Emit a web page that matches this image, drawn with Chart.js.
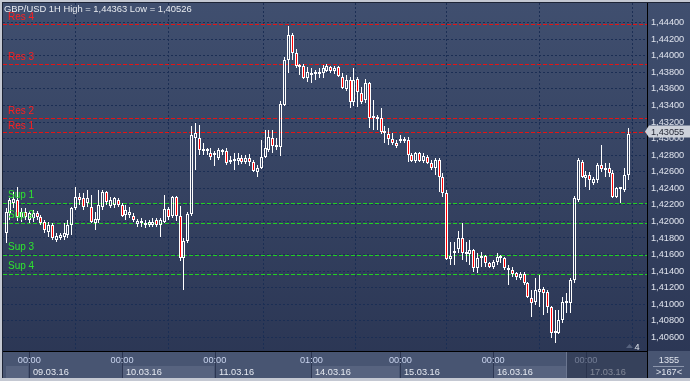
<!DOCTYPE html>
<html><head><meta charset="utf-8">
<script src="https://cdn.jsdelivr.net/npm/chart.js@4.4.1/dist/chart.umd.min.js"></script>
<style>html,body{margin:0;padding:0;background:#2e3a57;}#wrap{width:690px;height:381px;position:relative}canvas{display:block}</style>
</head><body><div id="wrap"><canvas id="c" width="690" height="381"></canvas></div>
<script>
// ---------- DATA (GBP/USD 1H, one value per hourly candle) ----------
const openP = [
1.41860,1.42102,1.42223,1.42259,1.42053,1.42114,1.42017,1.42041,1.42102,1.42053,
1.41993,1.41872,1.41957,1.41776,1.41800,1.41812,1.41836,1.41957,1.42162,1.42295,
1.42283,1.42223,1.42174,1.41981,1.42017,1.42174,1.42355,1.42186,1.42198,1.42259,
1.42198,1.42078,1.42078,1.42066,1.41969,1.41981,1.41957,1.41957,1.41957,1.42017,
1.41957,1.41993,1.42150,1.42066,1.42295,1.42066,1.41558,1.41764,1.42090,1.43008,
1.43008,1.42851,1.42851,1.42826,1.42802,1.42766,1.42863,1.42851,1.42718,1.42730,
1.42730,1.42766,1.42718,1.42766,1.42718,1.42597,1.42645,1.42778,1.42863,1.43008,
1.42899,1.42899,1.43406,1.43950,1.44252,1.44034,1.43865,1.43877,1.43732,1.43774,
1.43776,1.43786,1.43793,1.43817,1.43865,1.43817,1.43865,1.43744,1.43599,1.43708,
1.43442,1.43720,1.43551,1.43467,1.43672,1.43255,1.43261,1.43249,1.43068,1.43056,
1.42996,1.42947,1.42971,1.42971,1.42983,1.42802,1.42730,1.42826,1.42730,1.42778,
1.42706,1.42645,1.42742,1.42537,1.42343,1.41546,1.41613,1.41667,1.41800,1.41607,
1.41607,1.41655,1.41438,1.41558,1.41582,1.41498,1.41450,1.41510,1.41582,1.41558,
1.41438,1.41413,1.41377,1.41317,1.41365,1.41256,1.41075,1.41027,1.41148,1.41184,
1.41148,1.40967,1.40653,1.40653,1.40810,1.41015,1.41015,1.41293,1.42259,1.42718,
1.42524,1.42561,1.42464,1.42500,1.42681,1.42621,1.42645,1.42585,1.42295,1.42386,
1.42380,1.42561];
const highP = [
1.42162,1.42283,1.42355,1.42416,1.42162,1.42162,1.42126,1.42138,1.42126,1.42078,
1.42017,1.41993,1.41981,1.41860,1.41860,1.41981,1.42017,1.42174,1.42416,1.42343,
1.42343,1.42380,1.42319,1.42114,1.42380,1.42380,1.42367,1.42295,1.42295,1.42283,
1.42223,1.42198,1.42174,1.42102,1.42029,1.42041,1.42017,1.42017,1.42041,1.42041,
1.42041,1.42319,1.42174,1.42307,1.42307,1.42186,1.41800,1.42114,1.43153,1.43189,
1.43165,1.42947,1.42887,1.42887,1.42851,1.42887,1.42875,1.42887,1.42790,1.42826,
1.42826,1.42802,1.42802,1.42814,1.42742,1.42681,1.42983,1.43104,1.43104,1.43104,
1.43008,1.43454,1.43986,1.44363,1.44276,1.44082,1.43901,1.43901,1.43865,1.43853,
1.43829,1.43853,1.43889,1.43901,1.43877,1.43877,1.43877,1.43793,1.43768,1.43744,
1.43853,1.43744,1.43624,1.43720,1.43684,1.43467,1.43285,1.43370,1.43153,1.43128,
1.43068,1.42983,1.43044,1.43020,1.43020,1.42826,1.42838,1.42838,1.42826,1.42802,
1.42742,1.42766,1.42766,1.42585,1.42380,1.41752,1.41752,1.41884,1.41981,1.41752,
1.41776,1.41667,1.41619,1.41631,1.41595,1.41510,1.41534,1.41619,1.41595,1.41570,
1.41474,1.41450,1.41389,1.41389,1.41389,1.41268,1.41172,1.41317,1.41353,1.41208,
1.41172,1.40979,1.40930,1.40930,1.41087,1.41136,1.41317,1.42307,1.42766,1.42742,
1.42609,1.42597,1.42537,1.42706,1.42923,1.42706,1.42706,1.42621,1.42416,1.42416,
1.42645,1.43128];
const lowP = [
1.41739,1.42017,1.42162,1.42005,1.41993,1.42017,1.41981,1.41993,1.42017,1.41957,
1.41860,1.41812,1.41776,1.41752,1.41776,1.41776,1.41800,1.41836,1.42138,1.42198,
1.42138,1.42174,1.41981,1.41896,1.41981,1.42138,1.42198,1.42162,1.42162,1.42174,
1.42053,1.42017,1.42041,1.41993,1.41933,1.41933,1.41921,1.41933,1.41933,1.41933,
1.41812,1.41981,1.42017,1.42041,1.42005,1.41522,1.41172,1.41739,1.42066,1.42621,
1.42802,1.42802,1.42802,1.42742,1.42669,1.42742,1.42802,1.42681,1.42694,1.42621,
1.42681,1.42694,1.42694,1.42669,1.42597,1.42537,1.42633,1.42766,1.42838,1.42826,
1.42863,1.42790,1.43394,1.43793,1.43950,1.43853,1.43768,1.43720,1.43684,1.43672,
1.43708,1.43732,1.43732,1.43805,1.43793,1.43780,1.43744,1.43599,1.43575,1.43370,
1.43394,1.43382,1.43418,1.43430,1.43128,1.43104,1.43104,1.43056,1.42947,1.42923,
1.42923,1.42887,1.42947,1.42947,1.42718,1.42718,1.42706,1.42718,1.42706,1.42694,
1.42621,1.42561,1.42355,1.42295,1.41534,1.41474,1.41474,1.41619,1.41534,1.41510,
1.41474,1.41389,1.41377,1.41450,1.41450,1.41438,1.41425,1.41474,1.41498,1.41413,
1.41232,1.41329,1.41293,1.41293,1.41232,1.41075,1.40846,1.40991,1.40967,1.40870,
1.40894,1.40592,1.40526,1.40640,1.40773,1.40894,1.40894,1.41256,1.42235,1.42524,
1.42416,1.42380,1.42440,1.42464,1.42597,1.42537,1.42537,1.42283,1.42283,1.42223,
1.42355,1.42500];
const closeP = [
1.42114,1.42259,1.42271,1.42053,1.42114,1.42053,1.42102,1.42102,1.42053,1.41981,
1.41896,1.41957,1.41800,1.41824,1.41836,1.41860,1.41957,1.42162,1.42295,1.42259,
1.42174,1.42283,1.41993,1.42029,1.42198,1.42355,1.42235,1.42259,1.42283,1.42198,
1.42066,1.42138,1.42114,1.42017,1.42005,1.42005,1.41981,1.41993,1.41993,1.41957,
1.42017,1.42150,1.42053,1.42295,1.42066,1.41558,1.41764,1.42090,1.43044,1.43068,
1.42863,1.42863,1.42875,1.42778,1.42826,1.42863,1.42838,1.42706,1.42730,1.42754,
1.42766,1.42718,1.42766,1.42718,1.42609,1.42645,1.42778,1.42887,1.43020,1.42911,
1.42911,1.43418,1.43950,1.44252,1.44034,1.43877,1.43877,1.43732,1.43805,1.43780,
1.43781,1.43793,1.43853,1.43877,1.43817,1.43853,1.43756,1.43611,1.43708,1.43442,
1.43708,1.43563,1.43442,1.43672,1.43249,1.43261,1.43237,1.43080,1.43080,1.42996,
1.42947,1.42911,1.42983,1.42990,1.42802,1.42730,1.42826,1.42730,1.42790,1.42706,
1.42645,1.42742,1.42537,1.42343,1.41546,1.41582,1.41619,1.41800,1.41619,1.41619,
1.41655,1.41438,1.41558,1.41582,1.41498,1.41450,1.41510,1.41570,1.41558,1.41438,
1.41413,1.41365,1.41329,1.41365,1.41256,1.41087,1.41015,1.41172,1.41184,1.41136,
1.40967,1.40653,1.40665,1.40810,1.41027,1.41027,1.41293,1.42283,1.42742,1.42537,
1.42561,1.42500,1.42512,1.42681,1.42633,1.42645,1.42585,1.42295,1.42404,1.42392,
1.42561,1.43055];

const dayIdx = [6, 30, 54, 79, 102, 126, 150];
const timeLabels = ['00:00','00:00','00:00','01:00','00:00','00:00','00:00'];
const dateLabels = ['09.03.16','10.03.16','11.03.16','14.03.16','15.03.16','16.03.16','17.03.16'];
const priceTicks = [1.406,1.408,1.410,1.412,1.414,1.416,1.418,1.420,1.422,1.424,
                    1.426,1.428,1.430,1.432,1.434,1.436,1.438,1.440,1.442,1.444];
const resLevels = [1.44381, 1.43901, 1.43245, 1.43072];
const resNames  = ['Res 4','Res 3','Res 2','Res 1'];
const supLevels = [1.42219, 1.41977, 1.41591, 1.41361];
const supNames  = ['Sup 1','Sup 2','Sup 3','Sup 4'];
const titleText = 'GBP/USD 1H High = 1,44363 Low = 1,40526';
const lastPrice = 1.43055;
const infoLabels = ['1355', '>167<'];
const pageLabel = '4';

// ---------- build ----------
const FONT = "'Liberation Sans', Arial, sans-serif";
const fmt = v => v.toFixed(5).replace('.', ',');
const ids = openP.map((_, i) => i);
const bodies  = ids.map(i => ({x: i, y: [openP[i], closeP[i]]}));
const upWicks = ids.map(i => ({x: i, y: [Math.max(openP[i], closeP[i]), highP[i]]}));
const dnWicks = ids.map(i => ({x: i, y: [lowP[i], Math.min(openP[i], closeP[i])]}));
const X_MIN = -0.8, X_MAX = 165.8, Y_MIN = 1.40435, Y_MAX = 1.44638;

const levelSet = (v, color) => ({
  type: 'line', data: [{x: X_MIN, y: v}, {x: X_MAX, y: v}],
  borderColor: color, borderWidth: 1, borderDash: [4, 2], pointRadius: 0, order: 3
});

// snap the library-computed element positions to whole pixels for crisp candles
const snapPlugin = {
  id: 'snap',
  afterDatasetsUpdate(chart) {
    chart.data.datasets.forEach((ds, di) => {
      const meta = chart.getDatasetMeta(di);
      meta.data.forEach(el => {
        if (meta.type === 'bar') {
          el.x = Math.floor(el.x) + 0.5;
          el.y = Math.round(el.y);
          el.base = Math.round(el.base);
        } else {
          el.y = Math.floor(el.y) + 0.5;
        }
      });
    });
  }
};

const bgPlugin = {
  id: 'bg',
  beforeDraw(chart) {
    const {ctx, chartArea: a, scales: {x}} = chart;
    const g = ctx.createLinearGradient(0, 0, 0, 381);
    g.addColorStop(0, '#404f6f');
    g.addColorStop(1, '#2a3553');
    ctx.fillStyle = g;
    ctx.fillRect(0, 0, 690, 381);
    ctx.fillStyle = '#485572';
    ctx.fillRect(a.left, a.bottom, 690 - a.left, 378 - a.bottom);
    const px = dayIdx.map(v => x.getPixelForValue(v));
    ctx.fillStyle = '#57637f';
    const boxes = [[a.left + 3, px[0] - 1], [px[1] + 1, px[2] - 1], [px[3] + 1, px[4] - 1], [px[5] + 1, 566]];
    boxes.forEach(([l, r]) => ctx.fillRect(Math.round(l), 366, Math.round(r - l), 12));
    ctx.strokeStyle = '#2c3652';
    ctx.lineWidth = 1;
    px.forEach(p => { ctx.beginPath(); ctx.moveTo(Math.round(p) + 0.5, a.bottom); ctx.lineTo(Math.round(p) + 0.5, 378); ctx.stroke(); });
  }
};

const fgPlugin = {
  id: 'fg',
  afterDraw(chart) {
    const {ctx, chartArea: a, scales: {x, y}} = chart;
    ctx.save();
    const px = dayIdx.map(v => x.getPixelForValue(v));
    ctx.font = '9.2px ' + FONT;
    ctx.fillStyle = '#e6eaf2';
    ctx.textAlign = 'left';
    ctx.textBaseline = 'middle';
    dateLabels.forEach((t, k) => ctx.fillText(t, Math.round(px[k]) + 4, 372));
    ctx.fillStyle = 'rgba(40,50,72,0.55)';
    ctx.fillRect(567, a.bottom + 1, a.right - 567, 378 - a.bottom - 1);
    ctx.strokeStyle = '#6b7690';
    ctx.beginPath(); ctx.moveTo(566.5, a.bottom + 1); ctx.lineTo(566.5, 378); ctx.stroke();

    ctx.font = '10px ' + FONT;
    ctx.textBaseline = 'alphabetic';
    ctx.fillStyle = '#ff1e1e';
    resLevels.forEach((v, k) => ctx.fillText(resNames[k], 8, Math.round(y.getPixelForValue(v)) - 4));
    ctx.fillStyle = '#2ee62e';
    supLevels.forEach((v, k) => ctx.fillText(supNames[k], 8, Math.round(y.getPixelForValue(v)) - 5));

    ctx.font = '9.4px ' + FONT;
    ctx.fillStyle = '#e8ebf0';
    ctx.fillText(titleText, 4, 12);

    ctx.strokeStyle = '#000000';
    ctx.lineWidth = 1;
    ctx.beginPath();
    ctx.moveTo(a.right + 0.5, a.top); ctx.lineTo(a.right + 0.5, 378);
    ctx.moveTo(a.left, a.bottom + 0.5); ctx.lineTo(a.right, a.bottom + 0.5);
    ctx.stroke();
    ctx.strokeStyle = '#1d2436';
    ctx.beginPath();
    ctx.moveTo(2.5, 2); ctx.lineTo(2.5, 378);
    ctx.moveTo(2, 2.5); ctx.lineTo(690, 2.5);
    ctx.stroke();
    ctx.fillStyle = '#c4c8d2';
    ctx.fillRect(0, 0, 2, 381);
    ctx.fillRect(0, 0, 690, 2);
    ctx.fillRect(0, 378, 690, 3);

    const py = Math.round(y.getPixelForValue(lastPrice)) - 2.5;
    ctx.fillStyle = '#cdd1da';
    ctx.beginPath();
    ctx.moveTo(a.right - 2, py);
    ctx.lineTo(a.right + 2, py - 6);
    ctx.lineTo(690, py - 6);
    ctx.lineTo(690, py + 6);
    ctx.lineTo(a.right + 2, py + 6);
    ctx.closePath();
    ctx.fill();
    ctx.fillStyle = '#1e2230';
    ctx.font = '9.2px ' + FONT;
    ctx.textBaseline = 'middle';
    ctx.fillText(fmt(lastPrice), a.right + 4, py + 0.5);

    ctx.fillStyle = '#dfe3ec';
    ctx.textAlign = 'center';
    ctx.fillText(infoLabels[0], 669, 360);
    ctx.fillText(infoLabels[1], 669, 372);
    ctx.strokeStyle = '#8c96ac';
    ctx.beginPath(); ctx.moveTo(653, 366.5); ctx.lineTo(684, 366.5); ctx.stroke();

    ctx.fillStyle = '#56627e';
    ctx.beginPath(); ctx.moveTo(626, 348); ctx.lineTo(629.5, 344); ctx.lineTo(633, 348); ctx.closePath(); ctx.fill();
    ctx.fillStyle = '#dfe3ec';
    ctx.fillText(pageLabel, 637, 347);
    ctx.restore();
  }
};

new Chart(document.getElementById('c'), {
  type: 'bar',
  data: {
    datasets: [
      { type: 'bar', data: bodies, order: 1, grouped: false, barThickness: 3, maxBarThickness: 3,
        borderWidth: 1, borderSkipped: false, borderColor: '#ffffff', minBarLength: 2, inflateAmount: 0,
        backgroundColor: c => (closeP[c.dataIndex] >= openP[c.dataIndex] ? 'rgba(0,0,0,0)' : '#ff0000') },
      { type: 'bar', data: upWicks, order: 2, grouped: false, barThickness: 1, maxBarThickness: 1,
        borderWidth: 0, inflateAmount: 0, backgroundColor: '#ffffff' },
      { type: 'bar', data: dnWicks, order: 2, grouped: false, barThickness: 1, maxBarThickness: 1,
        borderWidth: 0, inflateAmount: 0, backgroundColor: '#ffffff' },
      ...resLevels.map(v => levelSet(v, '#e41414')),
      ...supLevels.map(v => levelSet(v, '#22d022'))
    ]
  },
  options: {
    responsive: false, animation: false, events: [],
    layout: { padding: { left: 3, top: 3, right: 0, bottom: 3 } },
    plugins: { legend: { display: false }, tooltip: { enabled: false }, title: { display: false } },
    scales: {
      x: {
        type: 'linear', position: 'bottom', min: X_MIN, max: X_MAX, offset: false,
        afterFit: s => { s.height = 27; s.paddingLeft = 0; s.paddingRight = 0; },
        afterBuildTicks: s => { s.ticks = dayIdx.map(v => ({ value: v })); },
        grid: { color: '#1b2e54', lineWidth: 1, drawTicks: false },
        border: { display: false, dash: [2, 2] },
        ticks: { autoSkip: false, maxRotation: 0, padding: 4, color: '#cad5ef',
                 font: { family: FONT, size: 9.2 }, callback: (v, i) => timeLabels[i] }
      },
      y: {
        type: 'linear', position: 'right', min: Y_MIN, max: Y_MAX,
        afterFit: s => { s.width = 43; s.paddingTop = 0; s.paddingBottom = 0; },
        afterBuildTicks: s => { s.ticks = priceTicks.map(v => ({ value: v })); },
        grid: { color: '#1b2e54', lineWidth: 1, drawTicks: false },
        border: { display: false, dash: [2, 2] },
        ticks: { autoSkip: false, padding: 4, color: '#e0e4ee',
                 font: { family: FONT, size: 9.2 }, callback: v => fmt(v) }
      }
    }
  },
  plugins: [snapPlugin, bgPlugin, fgPlugin]
});
</script>
</body></html>
